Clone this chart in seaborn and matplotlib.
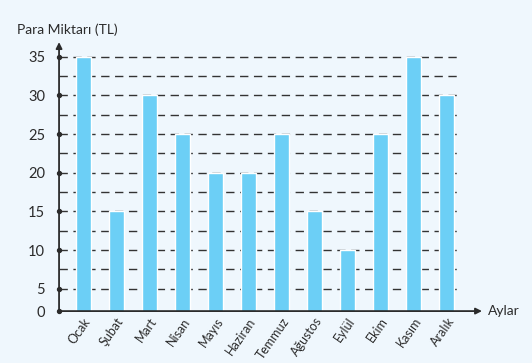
import numpy as np
import matplotlib
matplotlib.use("Agg")
import matplotlib.pyplot as plt
import seaborn as sns

months = ["Ocak", "Şubat", "Mart", "Nisan", "Mayıs", "Haziran",
          "Temmuz", "Ağustos", "Eylül", "Ekim", "Kasım", "Aralık"]
amounts = [35, 15, 30, 25, 20, 20, 25, 15, 10, 25, 35, 30]
y_ticks = [5, 10, 15, 20, 25, 30, 35]
grid_levels = [5, 7.5, 10, 12.5, 15, 17.5, 20, 22.5, 25, 27.5, 30, 32.5, 35]

BG = "#eff7fd"
BAR = "#6ccff6"
INK = "#2b2b2b"

sns.set_style("white")
plt.rcParams["font.family"] = ["Lato", "DejaVu Sans"]

fig = plt.figure(figsize=(5.32, 3.63), dpi=100, facecolor=BG)
ax = fig.add_axes([0.111, 0.143, 0.795, 0.741], facecolor=BG)

x0, x1 = -0.73, 12.07
y0, y1 = 2.1, 36.9

# dashed guide lines behind bars
ax.hlines(grid_levels, x0, 11.4, colors="#333333", linestyles=(0, (6, 4)),
          linewidth=1.0, zorder=1)

sns.barplot(x=months, y=amounts, color=BAR, width=0.46, saturation=1,
            ax=ax, zorder=2)

ax.set_xlim(x0, x1)
ax.set_ylim(y0, y1)
for s in ax.spines.values():
    s.set_visible(False)

# axes with arrows
ax.annotate("", xy=(x0, y1), xytext=(x0, y0),
            arrowprops=dict(arrowstyle="-|>", color=INK, lw=1.3,
                            mutation_scale=9, shrinkA=0, shrinkB=0),
            annotation_clip=False, zorder=5)
ax.annotate("", xy=(x1, y0), xytext=(x0, y0),
            arrowprops=dict(arrowstyle="-|>", color=INK, lw=1.3,
                            mutation_scale=9, shrinkA=0, shrinkB=0),
            annotation_clip=False, zorder=5)
ax.scatter([x0] * (len(y_ticks) + 1), [y0] + y_ticks, s=8, color=INK,
           clip_on=False, zorder=6)

ax.set_yticks([y0] + y_ticks)
ax.set_yticklabels(["0"] + [str(v) for v in y_ticks], fontsize=10.5, color=INK)
ax.tick_params(axis="y", length=0, pad=10)
ax.tick_params(axis="x", length=0, pad=3)
ax.set_xticks(range(len(months)))
ax.set_xticklabels(months, rotation=55, ha="right", rotation_mode="anchor",
                   fontsize=9, color=INK)
ax.set_xlabel("")
ax.set_ylabel("")

fig.text(0.032, 0.918, "Para Miktarı (TL)", fontsize=10, color=INK,
         va="center", ha="left")
fig.text(0.917, 0.143, "Aylar", fontsize=10, color=INK, va="center",
         ha="left")

fig.savefig("out.png", dpi=100, facecolor=BG)
